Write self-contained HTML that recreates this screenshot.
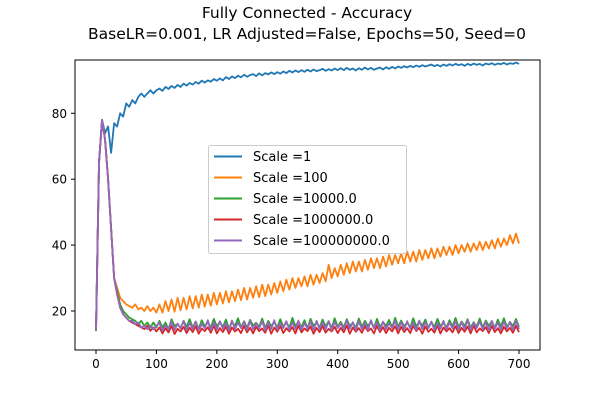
<!DOCTYPE html>
<html><head><meta charset="utf-8"><style>
body{margin:0;background:#fff;}
svg{display:block;font-family:"DejaVu Sans","Liberation Sans",sans-serif;}
</style></head><body>
<svg id="chart" width="600" height="400">
<rect width="600" height="400" fill="#fff"/>
<text x="307" y="18" text-anchor="middle" font-size="15.5">Fully Connected - Accuracy</text>
<text x="307" y="39" text-anchor="middle" font-size="15.5">BaseLR=0.001, LR Adjusted=False, Epochs=50, Seed=0</text>
<g id="plot"></g>
<g id="axes"></g>
</svg>
<script>
const seriesNames=["Scale =1","Scale =100","Scale =10000.0","Scale =1000000.0","Scale =100000000.0"];
const colors=["#1f77b4","#ff7f0e","#2ca02c","#d62728","#9467bd"];
const xTicks=[0,100,200,300,400,500,600,700];
const yTicks=[20,40,60,80];
const epochStep=5;
const s1=[14,65,78,74,76,68,77,76,80,79,83,82,84,83,85,86,85,86,87,86,87,
87.5,86.8,88,87.4,88.3,87.7,88.6,88,89,88.4,89.2,88.7,89.5,89,89.9,89.3,90,89.6,90.4,89.9,
90.6,90,91,90.4,91.2,90.7,91.4,90.9,91.7,91.1,91.6,91.9,91.3,92.1,91.5,92.2,91.8,92.4,91.9,92.5,
92,92.7,92.2,92.9,92.4,93,92.5,93.1,92.6,93.2,92.7,93.3,92.8,93.1,93.5,92.9,93.4,93,93.6,93.1,
93.7,93.1,93.8,93.2,93.6,93,93.7,93.2,93.9,93.3,93.8,93.2,93.6,93.9,93.3,94,93.5,94.1,93.6,94.2,
93.8,94.3,93.9,94.4,94,94.5,94.1,94.6,94.2,94.5,94.8,94.3,94.7,94.2,94.8,94.4,94.9,94.5,95,94.6,
94.9,94.4,95,94.6,95.1,94.7,95,94.5,95.1,94.8,95.2,94.7,95.1,94.9,95.3,94.8,95.2,95,95.4,95];
const s100=[14,65,78,72,60,45,30,27,24,23,22,21.5,21,22,20.5,21,20,21.5,20,21,19.5,
22,19.5,23,20,23.5,19.8,24,20.2,24,20.5,24.5,20.8,24.5,21,25,21.3,25,21.6,25.5,22,
25.5,22.3,26,22.6,26,23,26.5,23.3,27,23.5,27,24,27.5,24.2,28,24.5,28,25,28.5,25.5,
29,26,29.5,26.5,30,27,30,27.5,30.5,27.5,31,28,31,28.5,31.5,29,34,30,33,30.5,
34,31,34.5,31.5,35,32,35,32,35.5,32.5,36,33,36,33,36.5,33.5,37,34,37,34.5,
37.5,34.5,38,35,38,35,38.5,35.5,38.5,36,39,36,39,36.5,39.5,37,39.5,37,40,37.5,
40,38,40.5,38,40.5,38.5,41,38.5,41,39,41.5,39,42,39.5,42,40,43,40.5,43.5,40.5];
const s1e4=[14,65,78,72,60,45,30,26,22,20,19,18,17.5,17,16,17,15.5,16.5,15,16.5,15,
17,15,16.5,14.5,17.5,15.5,16,14.8,17,15.2,17.5,15,16.8,14.6,17.2,15.4,16.5,15,17.6,15.3,
16.8,15.1,17.4,14.7,16.6,15.5,17.8,15,16.9,14.9,17.3,15.6,16.4,15.2,17.7,14.8,17,15.4,16.7,15,
17.5,15.2,16.6,14.9,17.9,15.4,16.8,15.1,17.2,14.7,17.6,15.5,16.5,15,17.4,15.3,16.9,14.8,17.8,15.2,
16.7,15,17.5,15.5,16.4,14.9,17.7,15.2,17,15.4,16.8,14.8,17.6,15.1,16.6,15.5,17.3,15,17.9,15.2,
17.1,15.3,16.6,14.9,17.8,15.2,16.9,15.5,17.4,14.8,16.7,15.1,17.6,15.4,16.5,15,17.2,15.3,17.9,15.1,
16.8,15.4,17.5,14.9,16.6,15.2,17.7,15,17.1,15.5,16.9,14.8,17.4,15.3,17.8,15.1,16.7,15.4,17.6,15.2];
const s1e6=[14,65,78,72,60,45,30,25,21,19,18,17,16.5,16,15.5,15,14.5,15.5,14,15,13.8,
15,13.2,14.8,13.5,15.5,13,14.6,13.8,15.2,13.3,14.9,13.6,15.4,13.1,14.7,13.9,15.1,13.4,15.6,13.2,
14.8,13.6,15.3,13.1,15,13.8,14.6,13.3,15.5,13.5,14.9,13.2,15.2,13.9,14.7,13.4,15.6,13.1,15,13.7,
15.4,13.3,14.8,13.8,15.1,13.2,15.6,13.5,14.7,13.9,15.3,13.1,14.9,13.6,15.5,13.4,14.6,13.8,15.2,13.3,
14.9,13.5,15.6,13.1,15,13.7,14.8,13.4,15.3,13.9,14.7,13.2,15.5,13.6,15.1,13.3,14.9,13.8,15.4,13.2,
15.2,13.6,14.8,13.3,15.5,13.9,14.9,13.1,15.3,13.7,14.6,13.4,15.6,13.2,15,13.8,14.8,13.5,15.4,13.3,
14.9,13.7,15.3,13.2,15.6,13.5,14.7,13.9,15.1,13.3,15.5,13.6,14.8,13.2,15.2,13.8,14.9,13.4,15.5,13.6];
const s1e8=[14,65,78,72,60,45,30,25,21,19,18,17,17,16,16.5,15,15.5,14.5,15.5,14.5,15.5,
16.5,14,15.8,14.4,16.9,14.2,16.2,14.7,17,14.1,16.4,14.5,16.8,14.3,16,14.8,17.2,14.2,16.6,14.4,
16.9,14.6,16.3,14.1,17.1,14.5,16.5,14.8,16.8,14.2,17,14.4,16.2,14.7,16.9,14.1,16.6,14.5,17.2,14.3,
16.4,14.8,16.9,14.2,16.6,14.5,17.1,14.3,16.3,14.7,16.8,14.1,17,14.6,16.5,14.4,16.9,14.2,16.7,14.8,
16.2,14.4,17.1,14.6,16.6,14.1,16.9,14.5,16.4,14.3,17.2,14.7,16.5,14.2,16.8,14.5,16.3,14.8,17,14.4,
16.7,14.3,16.9,14.6,16.4,14.1,17.1,14.5,16.6,14.8,16.8,14.2,16.3,14.6,17,14.4,16.5,14.7,16.9,14.3,
16.6,14.5,17.2,14.2,16.4,14.8,16.9,14.4,16.7,14.1,17,14.6,16.5,14.3,16.8,14.7,16.6,14.2,17.1,14.5];
const series=[s1,s100,s1e4,s1e6,s1e8];

const L=75,R=540,T=60,B=350;
function xs(e){return 96+(e-0)*(519-96)/700;}
function ys(v){return 311-(v-20)*(311-113.3)/60;}
const NS="http://www.w3.org/2000/svg";
const plot=document.getElementById('plot');
const axes=document.getElementById('axes');
function mk(tag,attrs,parent){const el=document.createElementNS(NS,tag);for(const k in attrs)el.setAttribute(k,attrs[k]);parent.appendChild(el);return el;}

series.forEach((arr,i)=>{
  const d=arr.map((v,j)=>(j?'L':'M')+xs(j*epochStep).toFixed(2)+','+ys(v).toFixed(2)).join('');
  const p=mk('path',{d:d,fill:'none',stroke:colors[i],'stroke-width':1.8,'stroke-linejoin':'round'},plot);
  
  
});

const frame=mk('rect',{x:L,y:T,width:R-L,height:B-T,fill:'none',stroke:'#000','stroke-width':1},axes);


xTicks.forEach(t=>{
  const x=xs(t);
  mk('line',{x1:x,x2:x,y1:B,y2:B+4,stroke:'#000'},axes);
  const tx=mk('text',{x:x,y:B+18,'text-anchor':'middle','font-size':12},axes);
  tx.textContent=t;
  
  
});
yTicks.forEach(t=>{
  const y=ys(t);
  mk('line',{x1:L-4,x2:L,y1:y,y2:y,stroke:'#000'},axes);
  const tx=mk('text',{x:L-8,y:y+4.5,'text-anchor':'end','font-size':12},axes);
  tx.textContent=t;
  
  
});

const lg=mk('g',{},axes);


mk('rect',{x:208.5,y:145.5,width:198,height:108,rx:2,fill:'#fff','fill-opacity':0.8,stroke:'#ccc'},lg);
seriesNames.forEach((n,i)=>{
  const y=156.5+i*21;
  mk('line',{x1:214,x2:242,y1:y,y2:y,stroke:colors[i],'stroke-width':2},lg);
  const tx=mk('text',{x:253,y:y+4.5,'font-size':13},lg);
  tx.textContent=n;
  
  
});
</script>
</body></html>
